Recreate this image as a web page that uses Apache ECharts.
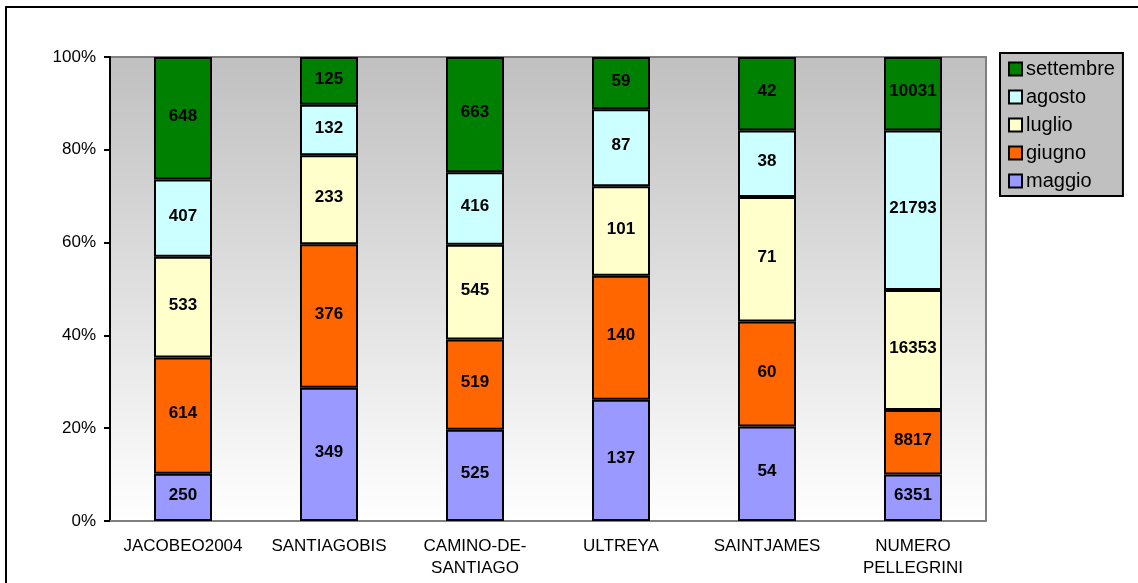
<!DOCTYPE html>
<html>
<head>
<meta charset="utf-8">
<script src="https://cdn.jsdelivr.net/npm/echarts@6/dist/echarts.min.js"></script>
<style>
  html, body { margin: 0; padding: 0; background: #fff; }
  #chart { width: 1138px; height: 583px; }
</style>
</head>
<body>
<div id="chart"></div>
<script>
// categorie e valori (stack al 100%)
var categories = ['JACOBEO2004', 'SANTIAGOBIS', 'CAMINO-DE-\nSANTIAGO', 'ULTREYA', 'SAINTJAMES', 'NUMERO\nPELLEGRINI'];
var maggio = [250, 349, 525, 137, 54, 6351];
var giugno = [614, 376, 519, 140, 60, 8817];
var luglio = [533, 233, 545, 101, 71, 16353];
var agosto = [407, 132, 416, 87, 38, 21793];
var settembre = [648, 125, 663, 59, 42, 10031];
var yTicks = [0, 20, 40, 60, 80, 100];

var seriesNames = ['maggio', 'giugno', 'luglio', 'agosto', 'settembre'];
var seriesData = [maggio, giugno, luglio, agosto, settembre];
var colors = ['#9999ff', '#ff6600', '#ffffcc', '#ccffff', '#008000'];

var totals = categories.map(function (c, i) {
    return seriesData.reduce(function (s, arr) { return s + arr[i]; }, 0);
});

var myChart = echarts.init(document.getElementById('chart'));

var series = seriesNames.map(function (name, k) {
    return {
        name: name,
        type: 'bar',
        stack: 'tot',
        barWidth: 58,
        data: seriesData[k].map(function (v, i) { return v / totals[i] * 100; }),
        itemStyle: { color: colors[k], borderColor: '#000', borderWidth: 2 },
        label: {
            show: true,
            position: 'inside',
            color: '#000',
            fontFamily: 'Liberation Sans, Arial, sans-serif',
            fontWeight: 'bold',
            fontSize: 17,
            offset: [0, -2],
            formatter: function (p) { return seriesData[p.seriesIndex][p.dataIndex]; }
        }
    };
});

myChart.setOption({
    animation: false,
    textStyle: { fontFamily: 'Liberation Sans, Arial, sans-serif' },
    graphic: [{
        type: 'rect',
        shape: { x: 6, y: 7, width: 1200, height: 700 },
        style: { fill: 'none', stroke: '#000', lineWidth: 2 },
        z: -1
    }],
    grid: {
        left: 110, right: 152, top: 57, bottom: 62,
        show: true,
        borderColor: '#808080',
        borderWidth: 2,
        backgroundColor: new echarts.graphic.LinearGradient(0, 0, 0, 1, [
            { offset: 0, color: '#c0c0c0' },
            { offset: 1, color: '#ffffff' }
        ])
    },
    legend: {
        orient: 'vertical',
        left: 1000,
        top: 53,
        data: seriesNames.slice().reverse(),
        backgroundColor: '#c0c0c0',
        borderColor: '#000',
        borderWidth: 2,
        padding: [6, 8, 5, 8],
        itemWidth: 13,
        itemHeight: 13,
        itemGap: 8,
        icon: 'rect',
        textStyle: { fontSize: 20, lineHeight: 20, color: '#000', padding: [0, 0, 0, -1] }
    },
    xAxis: {
        type: 'category',
        data: categories,
        axisLine: { lineStyle: { color: '#808080', width: 2 } },
        axisTick: { show: false },
        axisLabel: { color: '#000', fontSize: 17, lineHeight: 22, margin: 14, interval: 0 }
    },
    yAxis: {
        type: 'value',
        min: yTicks[0],
        max: yTicks[yTicks.length - 1],
        interval: 20,
        axisLine: { show: true, lineStyle: { color: '#000', width: 2 } },
        axisTick: { show: true, length: 6, lineStyle: { color: '#000', width: 2 } },
        splitLine: { show: false },
        axisLabel: { color: '#000', fontSize: 17, margin: 14, formatter: '{value}%' }
    },
    series: series
});
</script>
</body>
</html>
